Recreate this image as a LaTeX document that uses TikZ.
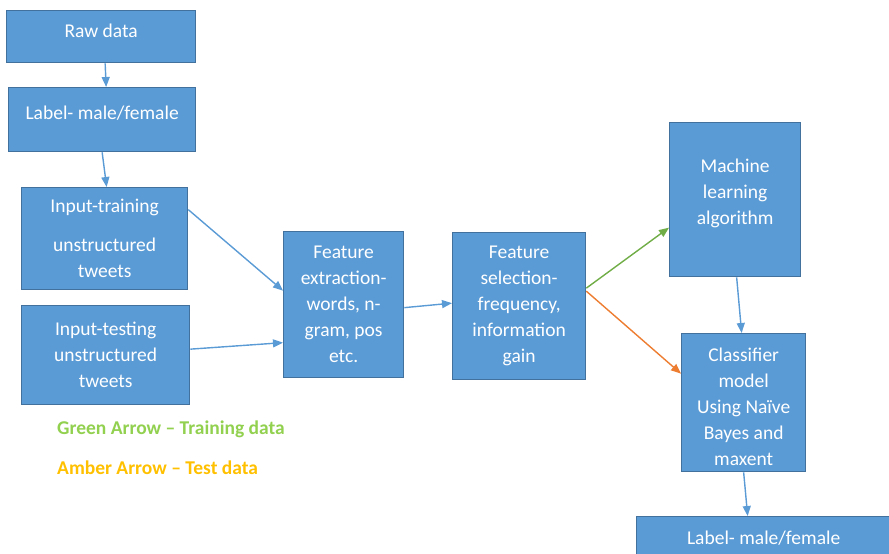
\documentclass[tikz,border=0pt]{standalone}
\usepackage{fontspec}
\setmainfont{Carlito}
\usetikzlibrary{arrows.meta}
\definecolor{boxblue}{HTML}{5B9BD5}
\definecolor{boxedge}{HTML}{41719C}
\definecolor{trainarrow}{HTML}{70AD47}
\definecolor{testarrow}{HTML}{ED7D31}
\definecolor{traintext}{HTML}{92D050}
\definecolor{testtext}{HTML}{FFC000}
\tikzstyle{process} = [
  rectangle,
  anchor=north west,
  inner sep=0pt,
  align=center,
  draw=boxedge,
  line width=1.3pt,
  fill=boxblue,
  text=white,
  font=\fontsize{19.5}{26}\selectfont
]
\tikzstyle{arrow} = [line width=1.4pt, draw=boxblue, -{Triangle[length=10pt,width=8pt]}]
\tikzstyle{legend} = [anchor=west, inner sep=0pt, font=\fontsize{19.5}{22}\selectfont\bfseries]
\newcommand{\dn}[1]{\rule[-#1]{0pt}{0pt}}

\begin{document}
\begin{tikzpicture}[x=1pt, y=-1pt]
    \useasboundingbox (0,0) rectangle (889,554);
    \node (raw) [process, minimum width=189pt, minimum height=52pt] at (6,10) {Raw data\dn{12pt}};
    \node (label-in) [process, minimum width=187pt, minimum height=64pt] at (8,87) {Label- male/female\dn{14pt}};
    \node (train) [process, minimum width=166pt, minimum height=102pt] at (21,187) {Input-training\\[13pt]unstructured\\tweets};
    \node (test) [process, minimum width=168pt, minimum height=99pt] at (21,305) {Input-testing\\unstructured\\tweets};
    \node (extract) [process, minimum width=120pt, minimum height=146pt] at (283,231) {Feature\\extraction-\\words, n-\\gram, pos\\etc.};
    \node (select) [process, minimum width=133pt, minimum height=147pt] at (452,232) {Feature\\selection-\\frequency,\\information\\gain};
    \node (learn) [process, minimum width=131pt, minimum height=154pt] at (669,122) {Machine\\learning\\algorithm\dn{16pt}};
    \node (classify) [process, minimum width=124pt, minimum height=138pt] at (681,333) {\rule{0pt}{21pt}Classifier\\model\\Using Naïve\\Bayes and\\maxent};
    \node (label-out) [process, minimum width=254pt, minimum height=64pt] at (636,516) {Label- male/female\dn{22pt}};

    \node (train-key) [legend, text=traintext] at (57,429) {Green Arrow – Training data};
    \node (test-key) [legend, text=testtext] at (57,468) {Amber Arrow – Test data};

    \draw [arrow] ([xshift=4pt]raw.south) -- ([xshift=4pt]label-in.north);
    \draw [arrow] (label-in.south) -- ([xshift=2pt]train.north);
    \draw [arrow] ([yshift=29pt]train.east) -- ([yshift=14pt]extract.west);
    \draw [arrow] ([yshift=6pt]test.east) -- ([yshift=-38pt]extract.west);
    \draw [arrow] ([yshift=-3pt]extract.east) -- ([yshift=3pt]select.west);
    \draw [arrow, draw=trainarrow] ([yshift=18pt]select.east) -- ([yshift=-28pt]learn.west);
    \draw [arrow, draw=testarrow] ([yshift=15pt]select.east) -- ([yshift=29pt]classify.west);
    \draw [arrow] ([xshift=1.5pt]learn.south) -- ([xshift=-2pt]classify.north);
    \draw [arrow] (classify.south) -- ([xshift=-16pt]label-out.north);
  \end{tikzpicture}
\end{document}
